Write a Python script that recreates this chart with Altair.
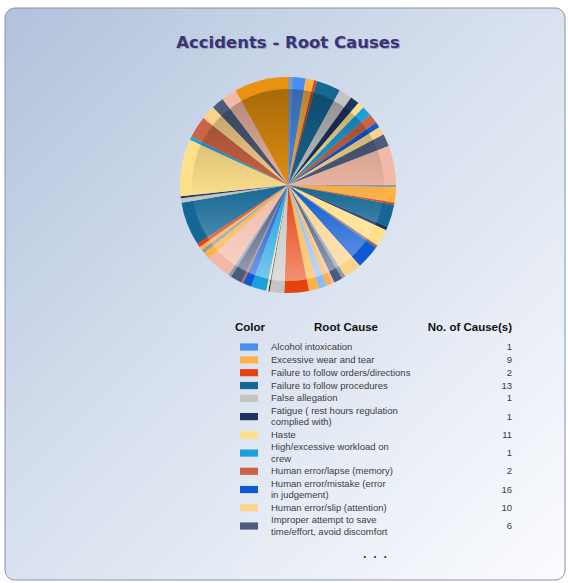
import altair as alt
import pandas as pd

# ---------------- data ----------------
causes = [
    "Alcohol intoxication",
    "Excessive wear and tear",
    "Failure to follow orders/directions",
    "Failure to follow procedures",
    "False allegation",
    "Fatigue ( rest hours regulation\ncomplied with)",
    "Haste",
    "High/excessive workload on\ncrew",
    "Human error/lapse (memory)",
    "Human error/mistake (error\nin judgement)",
    "Human error/slip (attention)",
    "Improper attempt to save\ntime/effort, avoid discomfort",
    "other-a", "other-b", "other-c", "other-d",
]
cause_colors = [
    "#4a8ff0", "#fdb245", "#e6420e", "#156894", "#c4c4c4", "#1c3462",
    "#ffe08a", "#1ba0de", "#cb6445", "#0d5ad2", "#fbd38a", "#4c5c7c",
    "#f2b9a7", "#8d9bb0", "#8cbcee", "#e8920f",
]
legend_counts = [1, 9, 2, 13, 1, 1, 11, 1, 2, 16, 10, 6]

# pie slices, clockwise from 12 o'clock: cause index and share (degrees)
slice_cause = [13, 0, 1, 2, 3, 4, 5, 6, 7, 8, 9, 10, 11, 12, 13, 1, 2, 3, 5, 6,
               8, 3, 9, 10, 13, 11, 12, 1, 14, 1, 2, 4, 5, 6, 7, 9, 8, 11, 13, 12,
               1, 13, 1, 2, 3, 4, 5, 6, 7, 8, 10, 11, 12, 15]
slice_share = [2.3, 7.2, 4.5, 1.5, 13.2, 7.1, 4.9, 3.5, 5.3, 5.2, 2.9, 4.5, 6.8, 21.1,
               1.2, 8.2, 1.2, 12.2, 1.9, 9.3, 1.0, 0.7, 12.6, 9.7, 2.0, 4.6, 1.4,
               3.0, 4.3, 5.5, 13.2, 7.9, 0.7, 1.1, 8.2, 4.7, 1.0, 6.3, 1.6, 13.5,
               4.0, 2.0, 2.0, 2.0, 23.6, 2.4, 1.0, 30.7, 1.8, 11.9, 7.6, 6.7, 8.3, 29.0]

title_text = "Accidents - Root Causes"
header_texts = ["Color", "Root Cause", "No. of Cause(s)"]

# ---------------- tables ----------------
pie_df = pd.DataFrame({
    "idx": list(range(len(slice_share))),
    "cause": [causes[i] for i in slice_cause],
    "value": slice_share,
})

n_leg = len(legend_counts)
units = [1.84 if "\n" in c else 1.0 for c in causes[:n_leg]]
centers, acc = [], 0.0
for u in units:
    centers.append(acc + u / 2)
    acc += u
leg_df = pd.DataFrame({
    "cause": causes[:n_leg],
    "count": [str(v) for v in legend_counts],
    "ypos": centers,
})

PX_PER_UNIT = 12.84
LINE_PX = 11.5
line_rows = []
for c, yc in zip(causes[:n_leg], centers):
    parts = c.split("\n")
    n = len(parts)
    for k, p in enumerate(parts):
        off = (k - (n - 1) / 2) * LINE_PX / PX_PER_UNIT
        line_rows.append({"line": p, "ypos": yc + off})
lines_df = pd.DataFrame(line_rows)

W, H = 568, 583
CX, CY, R = 288, 185, 108

color_scale = alt.Scale(domain=causes, range=cause_colors)
yscale = alt.Scale(domain=[0, acc], range=[340.6, 340.6 + acc * PX_PER_UNIT])
one = pd.DataFrame({"k": [0]})

# ---------------- layers ----------------
bg = alt.Chart(one).mark_rect(
    cornerRadius=10, stroke="#8592ab", strokeWidth=1,
    fill=alt.Gradient(gradient="linear", x1=0, y1=0, x2=1, y2=1,
                      stops=[alt.GradientStop(color="#b2c2db", offset=0),
                             alt.GradientStop(color="#d6dfee", offset=0.45),
                             alt.GradientStop(color="#fbfcfe", offset=1)]),
).encode(x=alt.value(5), x2=alt.value(565), y=alt.value(8), y2=alt.value(580))

title_df = pd.DataFrame({"t": [title_text]})
title_shadow = alt.Chart(title_df).mark_text(
    font="DejaVu Sans", fontWeight="bold", fontSize=16.5, color="#9ea4c2",
    align="center", baseline="middle",
).encode(x=alt.value(289), y=alt.value(44), text="t:N")
title = alt.Chart(title_df).mark_text(
    font="DejaVu Sans", fontWeight="bold", fontSize=16.5, color="#3b3474",
    align="center", baseline="middle",
).encode(x=alt.value(288), y=alt.value(43), text="t:N")

pie = alt.Chart(pie_df).mark_arc(outerRadius=R, stroke=None).encode(
    theta=alt.Theta("value:Q", stack=True),
    order=alt.Order("idx:Q"),
    color=alt.Color("cause:N", scale=color_scale, legend=None),
    x=alt.value(CX), y=alt.value(CY),
)

shade = alt.Chart(one).mark_arc(
    radius=96, theta=0, theta2=6.2832, strokeWidth=0,
    fill=alt.Gradient(gradient="linear", x1=0, y1=0, x2=0, y2=1,
                      stops=[alt.GradientStop(color="rgba(0,0,0,0.28)", offset=0),
                             alt.GradientStop(color="rgba(0,0,0,0.06)", offset=0.45),
                             alt.GradientStop(color="rgba(255,255,255,0.08)", offset=0.6),
                             alt.GradientStop(color="rgba(255,255,255,0.42)", offset=1)]),
).encode(x=alt.value(CX), y=alt.value(CY))

hdr_kw = dict(font="Liberation Sans", fontWeight="bold", fontSize=11.5,
              color="#111111", baseline="middle")
h1 = alt.Chart(one).mark_text(text=header_texts[0], align="center", **hdr_kw).encode(
    x=alt.value(250), y=alt.value(328))
h2 = alt.Chart(one).mark_text(text=header_texts[1], align="center", **hdr_kw).encode(
    x=alt.value(346), y=alt.value(328))
h3 = alt.Chart(one).mark_text(text=header_texts[2], align="right", **hdr_kw).encode(
    x=alt.value(512), y=alt.value(328))

swatch = alt.Chart(leg_df).mark_point(
    shape="M-1,-0.4L1,-0.4L1,0.4L-1,0.4Z", size=324, filled=True, opacity=1,
    strokeWidth=0,
).encode(
    x=alt.value(249),
    y=alt.Y("ypos:Q", scale=yscale, axis=None),
    color=alt.Color("cause:N", scale=color_scale, legend=None),
)

txt_kw = dict(font="Liberation Sans", fontSize=9.5, color="#3c3c3c", baseline="middle")
names = alt.Chart(lines_df).mark_text(align="left", **txt_kw).encode(
    x=alt.value(271), y=alt.Y("ypos:Q", scale=yscale, axis=None), text="line:N")
counts = alt.Chart(leg_df).mark_text(align="right", **txt_kw).encode(
    x=alt.value(512), y=alt.Y("ypos:Q", scale=yscale, axis=None), text="count:N")

dots = alt.Chart(one).mark_text(text="•\u00a0\u00a0\u00a0\u00a0•\u00a0\u00a0\u00a0\u00a0•",
                                fontSize=7, color="#222222",
                                align="center", baseline="middle").encode(
    x=alt.value(375), y=alt.value(557))

chart = alt.layer(
    bg, title_shadow, title, pie, shade, h1, h2, h3, swatch, names, counts, dots
).properties(
    width=W, height=H, padding=0,
    autosize=alt.AutoSizeParams(type="none"),
).configure(background="#ffffff").configure_view(stroke=None)

chart.save("out.html", embed_options={"renderer": "svg", "actions": False})
